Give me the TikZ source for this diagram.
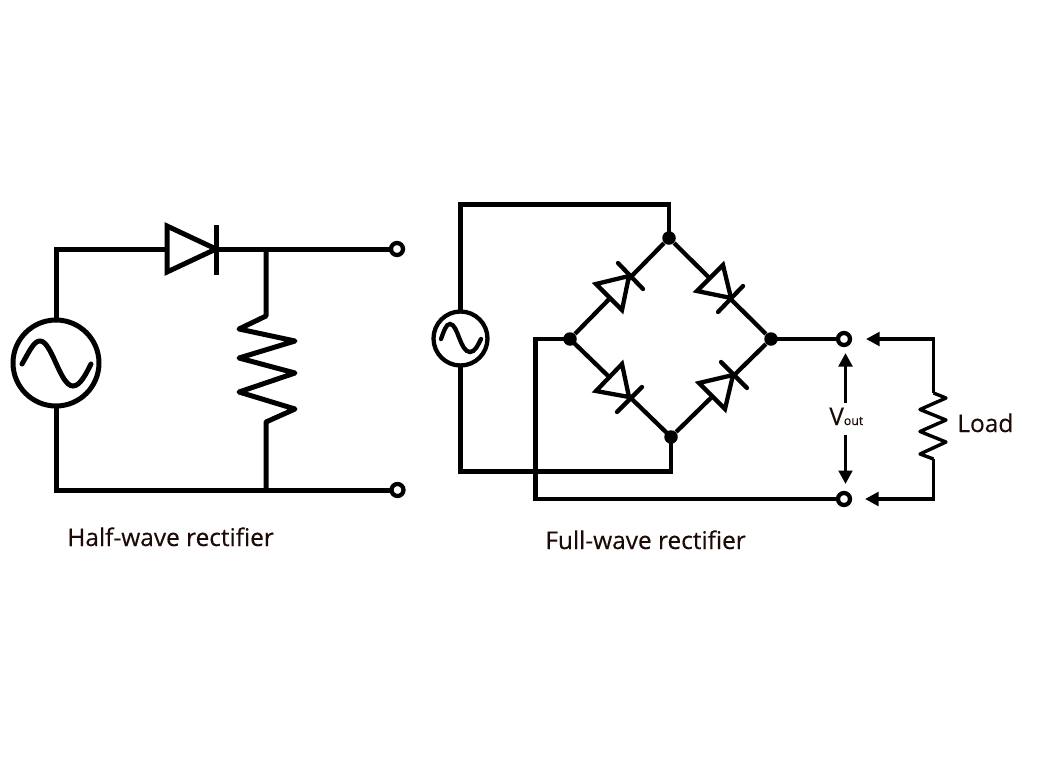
\documentclass[tikz,border=0pt]{standalone}
\usepackage{fontspec}
\setmainfont[FakeBold=0.3]{Open Sans}
\newfontfamily\captionfont[FakeBold=0.3]{Open Sans}
\usetikzlibrary{arrows.meta}
\definecolor{inkbrown}{HTML}{1C0A06}

\begin{document}
\begin{tikzpicture}[x=0.02cm, y=-0.02cm,
    wire/.style={line width=0.1cm},
    bridgewire/.style={line width=0.086cm},
    loadwire/.style={line width=0.068cm},
    lead/.style={shorten >=-0.04cm, shorten <=-0.04cm},
    diodebody/.style={fill=white, line join=miter},
    source/.style={circle, draw, fill=white, inner sep=0pt},
    terminal/.style={circle, draw, fill=white, inner sep=0pt, minimum size=0.24cm, line width=0.085cm},
    junction/.style={circle, fill=black, inner sep=0pt, minimum size=0.27cm},
    caption/.style={text=inkbrown, font=\captionfont\fontsize{13.9}{16}\selectfont, inner sep=0pt},
    probe/.style={-{Triangle[length=0.27cm, width=0.27cm]}}]
    \useasboundingbox (0,0) rectangle (1038,778);

    % half-wave
    \node[source, wire, minimum size=1.72cm] (srcA) at (56,363) {};
    \node[terminal] (outA) at (397,249) {};
    \node[terminal] (outB) at (397.5,490) {};
    \coordinate (midA) at (266,249);
    \coordinate (midB) at (266,490);
    \coordinate (anodeA) at (167,249);

    \draw[wire, lead] (srcA.north) |- (anodeA) -- (outA);
    \draw[wire, lead] (srcA.south) |- (outB);
    \draw[wire, diodebody] (167,226) -- (216,249) -- (167,272) -- cycle;
    \draw[wire] (216,225) -- (216,275);
    \draw[wire, line join=round] (midA) -- (266,316) -- (239,329) -- (295,341) -- (239,358)
        -- (295,373) -- (239,392) -- (295,409) -- (266,422) -- (midB);
    \draw[wire, line cap=round] (22,364) .. controls (30,350) and (34,341) .. (40,341)
        .. controls (52,341) and (60,386) .. (73,386) .. controls (80,386) and (86,374) .. (91,364);

    \node[caption, anchor=base west] (capA) at (67,546) {Half-wave rectifier};

    % full-wave
    \node[junction] (top) at (669,238) {};
    \node[junction] (lft) at (570,339) {};
    \node[junction] (rgt) at (771,339) {};
    \node[junction] (bot) at (671,437) {};
    \node[source, bridgewire, minimum size=1.08cm] (srcB) at (460.5,338.5) {};
    \node[terminal] (outC) at (844,339) {};
    \node[terminal] (outD) at (844,499) {};

    \draw[bridgewire, lead] (lft) -- (top) -- (rgt) -- (bot) -- (lft);
    \draw[bridgewire, lead] (srcB.north) |- (669,204.5) -- (top);
    \draw[bridgewire, lead] (srcB.south) |- (671,471.5) -- (bot);
    \draw[bridgewire, lead] (lft) -- (535.5,339) |- (outD);
    \draw[bridgewire, lead] (rgt) -- (outC);

    \draw[bridgewire, diodebody] (596,284) -- (629,276) -- (622,310) -- cycle;
    \draw[bridgewire, diodebody] (723,265) -- (731,298) -- (697,291) -- cycle;
    \draw[bridgewire, diodebody] (622,364) -- (629,397) -- (596,391) -- cycle;
    \draw[bridgewire, diodebody] (699,383) -- (733,375) -- (725,409) -- cycle;
    \draw[bridgewire, line cap=round] (618,263) -- (643,289);
    \draw[bridgewire, line cap=round] (743,286) -- (718,312);
    \draw[bridgewire, line cap=round] (642,387) -- (617,412);
    \draw[bridgewire, line cap=round] (721,362) -- (747,388);
    \draw[bridgewire, line cap=round] (441,339) .. controls (444,331) and (446,324) .. (450,324)
        .. controls (458,324) and (460,352) .. (470,352) .. controls (475,352) and (478,345) .. (481,339);

    % load and output
    \coordinate (tipC) at (866,339);
    \coordinate (tipD) at (865,499);
    \coordinate (loadTop) at (933.5,339);
    \coordinate (loadBot) at (933.5,499);
    \draw[loadwire, probe] (933.5,393) -- (loadTop) -- (tipC);
    \draw[loadwire, probe] (933.5,459) -- (loadBot) -- (tipD);
    \draw[loadwire, line join=round] (933.5,393) -- (946,398) -- (920,409.5) -- (946,420)
        -- (920,431.5) -- (946,442) -- (920,454) -- (933.5,459);

    \node[caption, anchor=base west] (vout) at (829,425)
        {V\raisebox{0pt}{\fontsize{7}{8}\selectfont out}};
    \draw[loadwire, probe] (845.5,403) -- (845.5,353);
    \draw[loadwire, probe] (845.5,435) -- (845.5,484);

    \node[caption, anchor=base west] (capB) at (545,549) {Full-wave rectifier};
    \node[caption, anchor=base west] (load) at (957,432) {Load};
\end{tikzpicture}
\end{document}
